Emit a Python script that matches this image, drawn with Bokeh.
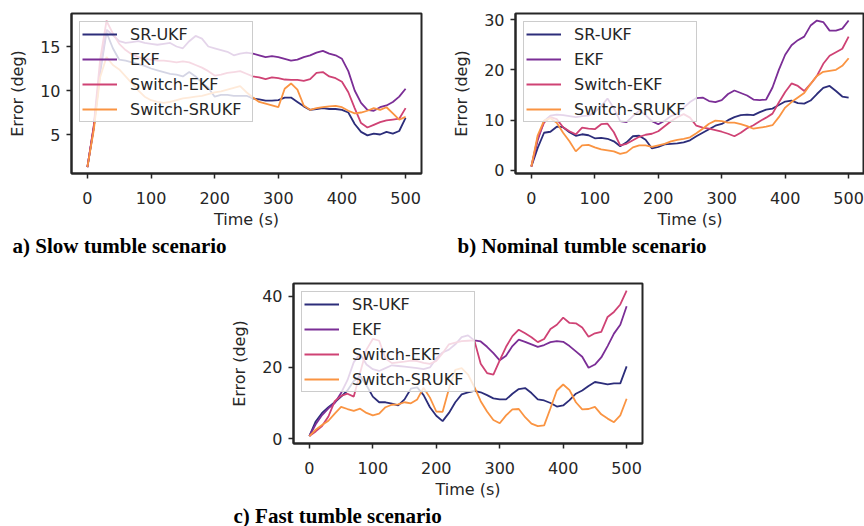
from bokeh.plotting import figure
from bokeh.models import Range1d, FixedTicker, Title, Spacer
from bokeh.layouts import row, column
from bokeh.embed import file_html
from bokeh.resources import INLINE

time_s = list(range(0, 501, 10))
series_names = ["SR-UKF", "EKF", "Switch-EKF", "Switch-SRUKF"]
series_colors = ["#2c2d7a", "#7b2e96", "#cf4274", "#fa9442"]
x_ticks = [0, 100, 200, 300, 400, 500]

# a) Slow tumble scenario
slow_srukf = [1.3, 5.8, 12.0, 16.6, 14.8, 13.5, 13.4, 13.2, 13.0, 12.8, 12.5, 12.3, 12.1, 11.9, 11.8, 11.6,
              12.1, 11.6, 10.9, 10.3, 9.3, 9.5, 9.5, 9.4, 9.4, 9.4, 9.1, 9.0, 8.85, 8.85, 8.9, 9.2, 9.2, 8.7,
              8.2, 7.8, 7.9, 8.0, 7.9, 7.9, 7.8, 7.5, 6.2, 5.3, 4.9, 5.1, 5.0, 5.3, 5.1, 5.4, 6.9]
slow_ekf = [1.3, 5.8, 12.5, 16.9, 16.3, 15.6, 15.4, 15.5, 15.6, 15.4, 15.3, 15.2, 15.3, 15.4, 15.0, 14.8,
            15.6, 16.2, 15.9, 15.0, 14.8, 14.6, 14.4, 14.0, 14.2, 14.3, 14.2, 14.0, 13.8, 13.9, 13.8, 13.6,
            13.4, 13.5, 13.8, 14.0, 14.3, 14.5, 14.2, 14.0, 13.6, 12.2, 10.0, 8.6, 7.8, 7.7, 8.1, 8.3, 8.7,
            9.3, 10.2]
slow_switch_ekf = [1.3, 6.0, 13.5, 17.9, 16.5, 15.3, 14.6, 14.1, 13.8, 13.6, 13.5, 13.4, 13.4, 13.3, 13.2,
                   13.3, 13.2, 12.9, 12.6, 12.2, 11.7, 11.8, 12.0, 12.1, 12.2, 11.9, 11.6, 11.5, 11.3, 11.5,
                   11.4, 11.25, 11.2, 11.2, 11.1, 11.3, 12.0, 12.1, 11.6, 11.4, 11.0, 9.8, 8.0, 6.3, 5.8,
                   6.1, 6.4, 6.6, 6.7, 6.8, 8.0]
slow_switch_srukf = [1.3, 5.5, 11.5, 13.8, 12.9, 12.4, 11.6, 10.8, 10.0, 9.3, 8.9, 8.7, 8.6, 8.7, 8.9, 9.1,
                     9.2, 9.3, 9.4, 9.6, 9.8, 9.9, 10.1, 10.3, 10.5, 9.8, 9.2, 8.7, 8.5, 8.3, 8.1, 10.2,
                     10.8, 10.1, 8.3, 7.8, 8.0, 8.1, 8.2, 8.25, 8.1, 7.7, 7.4, 7.5, 7.7, 8.0, 7.8, 8.1, 7.4,
                     6.7, 7.0]

# b) Nominal tumble scenario
nom_srukf = [0.8, 4.5, 7.5, 7.7, 8.7, 8.6, 7.6, 6.9, 7.2, 7.0, 6.4, 6.5, 6.3, 5.8, 4.8, 5.6, 6.8, 6.9, 6.1,
             4.4, 4.7, 5.2, 5.3, 5.4, 5.6, 6.0, 6.8, 7.5, 8.2, 8.9, 9.25, 10.0, 10.6, 11.0, 11.1, 11.0, 11.6,
             12.1, 12.3, 13.0, 13.7, 13.9, 13.4, 13.3, 13.9, 15.2, 16.4, 16.8, 15.8, 14.7, 14.5]
nom_ekf = [0.8, 6.0, 9.8, 10.9, 11.1, 11.0, 10.8, 10.6, 10.8, 10.9, 11.6, 12.8, 14.3, 12.4, 9.8, 9.6, 10.8,
           11.9, 11.0, 9.8, 9.2, 9.9, 10.8, 11.3, 12.5, 13.6, 14.4, 14.5, 13.8, 13.6, 14.0, 15.2, 15.9, 15.4,
           14.9, 14.1, 14.0, 14.1, 16.5, 20.0, 23.0, 24.9, 25.9, 26.6, 28.8, 29.8, 29.5, 27.8, 27.8, 28.2,
           29.8]
nom_switch_ekf = [0.8, 6.5, 9.5, 10.6, 10.2, 8.6, 7.8, 7.2, 8.5, 8.3, 8.2, 9.2, 9.3, 7.6, 5.0, 5.3, 6.0, 6.7,
                  7.1, 7.3, 7.8, 8.8, 9.8, 10.6, 11.2, 10.5, 8.9, 8.5, 8.3, 8.0, 7.7, 7.3, 6.8, 7.5, 8.4,
                  9.0, 9.8, 10.5, 11.3, 13.5, 15.6, 17.3, 16.8, 15.8, 17.2, 18.8, 21.2, 22.8, 23.5, 24.2,
                  26.6]
nom_switch_srukf = [0.8, 7.0, 9.9, 10.4, 9.5, 7.5, 5.8, 3.8, 5.0, 5.1, 4.6, 4.2, 4.0, 3.8, 3.3, 3.6, 4.6,
                    5.0, 5.0, 4.7, 5.0, 5.3, 5.8, 6.1, 6.3, 6.6, 7.4, 8.3, 9.3, 9.9, 9.8, 9.5, 9.5, 9.2, 8.8,
                    8.3, 8.5, 8.7, 9.0, 10.6, 12.5, 13.6, 14.5, 15.4, 17.2, 18.8, 19.6, 19.8, 20.0, 20.8,
                    22.3]

# c) Fast tumble scenario
fast_srukf = [0.7, 4.8, 7.2, 8.8, 10.2, 11.8, 13.5, 16.2, 17.6, 15.0, 11.8, 10.2, 10.2, 9.8, 9.3, 11.0, 14.0,
              14.4, 12.2, 8.8, 6.4, 4.9, 7.2, 10.2, 12.4, 13.0, 13.4, 13.0, 12.2, 11.3, 11.0, 11.0, 12.6,
              13.9, 14.2, 12.8, 11.0, 10.7, 10.0, 9.0, 9.3, 10.8, 12.6, 13.5, 14.8, 15.9, 15.6, 15.2, 15.5,
              15.5, 20.3]
fast_ekf = [0.7, 4.0, 6.6, 8.5, 10.0, 12.8, 16.4, 21.5, 23.8, 20.8, 19.5, 19.0, 19.8, 20.6, 20.4, 20.2, 20.0,
            19.8, 19.5, 20.0, 22.5, 24.2, 25.0, 26.5, 28.5, 29.0, 27.6, 27.3, 25.8, 24.0, 22.0, 23.3, 26.0,
            27.8, 27.2, 26.5, 25.8, 26.3, 27.1, 27.4, 27.2, 26.0, 24.5, 23.0, 19.9, 20.8, 22.8, 26.0, 29.5,
            32.0, 37.2]
fast_switch_ekf = [0.7, 2.0, 3.5, 6.2, 10.5, 12.0, 12.6, 11.8, 18.5, 25.0, 28.0, 27.5, 22.5, 21.2, 21.4,
                   21.6, 21.9, 21.8, 21.3, 21.0, 21.8, 24.0, 26.5, 27.0, 27.4, 27.5, 27.6, 21.0, 18.4, 18.0,
                   22.0, 25.8, 28.8, 30.6, 29.6, 28.5, 27.1, 28.0, 30.8, 32.0, 34.0, 32.5, 32.4, 31.2, 28.6,
                   29.6, 30.0, 34.2, 35.6, 37.7, 41.6]
fast_switch_srukf = [0.7, 2.5, 3.8, 5.0, 7.0, 8.9, 8.3, 7.8, 8.4, 7.2, 6.5, 7.0, 8.8, 9.5, 9.6, 10.2, 9.9,
                     11.0, 14.3, 11.5, 7.6, 7.5, 14.0, 19.3, 19.8, 18.0, 14.5, 10.5, 7.6, 5.2, 4.3, 6.5, 8.2,
                     8.3, 6.0, 4.2, 3.5, 3.7, 8.5, 13.5, 15.2, 13.6, 10.2, 8.2, 8.3, 8.9, 6.8, 5.6, 4.6, 6.5,
                     11.2]

INK = "#262626"
FONT = "DejaVu Sans"
CAP_FONT = "Liberation Serif"


def make_panel(values, y_range, y_ticks, mb_left, frame_w, mb_right, mb_top, mb_bottom):
    p = figure(output_backend="svg", toolbar_location=None,
               frame_width=frame_w, frame_height=160,
               min_border_left=mb_left, min_border_right=mb_right,
               min_border_top=mb_top, min_border_bottom=mb_bottom,
               x_range=Range1d(-25, 525), y_range=Range1d(*y_range))
    for name, col, vals in zip(series_names, series_colors, values):
        p.line(time_s, vals, line_color=col, line_width=1.8, legend_label=name)
    p.grid.visible = False
    p.outline_line_color = INK
    p.outline_line_width = 2
    p.outline_line_alpha = 1
    p.background_fill_color = "white"
    p.border_fill_color = "white"
    p.xaxis.ticker = FixedTicker(ticks=x_ticks)
    p.yaxis.ticker = FixedTicker(ticks=y_ticks)
    p.xaxis.axis_label = "Time (s)"
    p.yaxis.axis_label = "Error (deg)"
    for ax in (p.xaxis, p.yaxis):
        ax.axis_line_color = INK
        ax.axis_line_width = 2
        ax.major_tick_line_color = INK
        ax.major_tick_line_width = 1.5
        ax.major_tick_out = 5
        ax.major_tick_in = 0
        ax.minor_tick_line_color = None
        ax.major_label_text_font = FONT
        ax.major_label_text_font_size = "16px"
        ax.major_label_text_color = INK
        ax.axis_label_text_font = FONT
        ax.axis_label_text_font_size = "16px"
        ax.axis_label_text_font_style = "normal"
        ax.axis_label_text_color = INK
    p.xaxis.major_label_standoff = 13
    p.yaxis.major_label_standoff = 6
    p.xaxis.axis_label_standoff = 3
    p.yaxis.axis_label_standoff = 10
    lg = p.legend[0]
    lg.location = "top_left"
    lg.margin = 8
    lg.padding = 2
    lg.spacing = 5
    lg.glyph_width = 35
    lg.glyph_height = 20
    lg.label_height = 20
    lg.label_width = 120
    lg.label_standoff = 13
    lg.label_text_font = FONT
    lg.label_text_font_size = "16px"
    lg.label_text_color = INK
    lg.background_fill_color = "white"
    lg.background_fill_alpha = 0.8
    lg.border_line_color = "#cccccc"
    lg.border_line_width = 1.5
    lg.border_line_alpha = 1
    return p


def add_title_caption(p, text, offset):
    p.add_layout(Title(text=text, align="left", offset=offset, standoff=0,
                       text_font=CAP_FONT, text_font_style="bold",
                       text_font_size="21px", text_color="black"), "below")


pa = make_panel([slow_srukf, slow_ekf, slow_switch_ekf, slow_switch_srukf], (0.57, 18.75), [5, 10, 15],
                71, 350, 24, 13, 101)
add_title_caption(pa, "a) Slow tumble scenario", -59)
pb = make_panel([nom_srukf, nom_ekf, nom_switch_ekf, nom_switch_srukf], (-0.6, 31.2), [0, 10, 20, 30],
                70, 349, 0, 13, 101)
add_title_caption(pb, "b) Nominal tumble scenario", -58)
pc = make_panel([fast_srukf, fast_ekf, fast_switch_ekf, fast_switch_srukf], (-1.4, 43.6), [0, 20, 40],
                71, 349, 10, 9, 83)
add_title_caption(pc, "c) Fast tumble scenario", -60)

layout = column(row(pa, pb), row(Spacer(width=222, height=10), pc))
open("out.html", "w").write(file_html(layout, INLINE))
